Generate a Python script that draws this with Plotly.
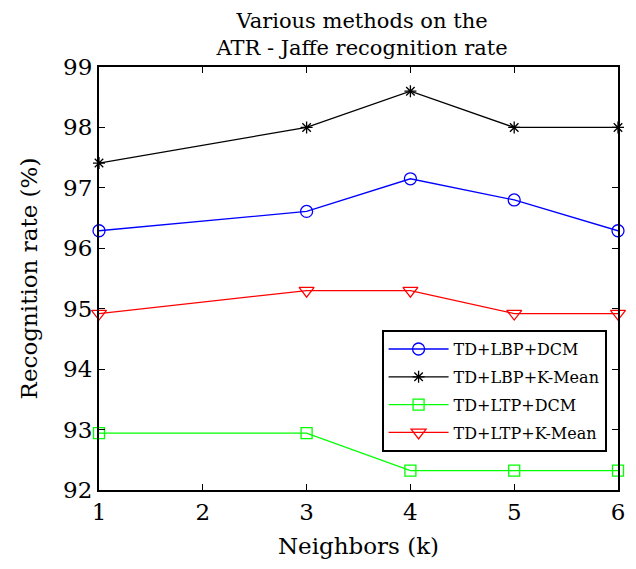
import plotly.graph_objects as go

neighbors = [1, 3, 4, 5, 6]
td_lbp_dcm = [96.29, 96.61, 97.15, 96.80, 96.29]
td_lbp_kmean = [97.41, 98.0, 98.6, 98.0, 98.0]
td_ltp_dcm = [92.94, 92.94, 92.32, 92.32, 92.32]
td_ltp_kmean = [94.92, 95.30, 95.30, 94.92, 94.92]

series = [
    ("TD+LBP+DCM", td_lbp_dcm, "#0000ff", "circle-open", 12),
    ("TD+LBP+K-Mean", td_lbp_kmean, "#000000", "asterisk-open", 10),
    ("TD+LTP+DCM", td_ltp_dcm, "#00ff00", "square-open", 11),
    ("TD+LTP+K-Mean", td_ltp_kmean, "#ff0000", "triangle-down-open", 13),
]

FONT = "DejaVu Serif"

# page body has an 8px default margin; compensate so the plot lands where the reference has it
OFF = 8
W, H = 636 - OFF, 569 - OFF
L, T, R, B = 99 - OFF, 67 - OFF, 11, 79

fig = go.Figure()
for name, vals, color, sym, size in series:
    fig.add_trace(go.Scatter(
        x=neighbors, y=vals, name=name, mode="lines+markers",
        legendgroup=name,
        line=dict(color=color, width=1.3),
        marker=dict(symbol=sym, size=size, color=color, line=dict(color=color, width=1.3)),
        cliponaxis=False,
    ))

fig.update_layout(
    width=W, height=H,
    margin=dict(l=L, r=R, t=T, b=B),
    paper_bgcolor="white", plot_bgcolor="white",
    font=dict(family=FONT, size=23, color="black"),
    title=dict(
        text="Various methods on the<br>ATR - Jaffe recognition rate",
        x=(362 - OFF) / W, xanchor="center",
        y=1 - 20 / H, yanchor="middle",
        font=dict(family=FONT, size=21, color="black"),
    ),
    xaxis=dict(
        range=[1, 6], tickvals=[1, 2, 3, 4, 5, 6],
        ticks="inside", ticklen=6, tickwidth=1, tickcolor="black",
        showline=True, linecolor="black", linewidth=2, mirror="ticks",
        showgrid=False, zeroline=False,
        title=dict(text="Neighbors (k)", font=dict(family=FONT, size=23), standoff=14),
        tickfont=dict(family=FONT, size=23),
    ),
    yaxis=dict(
        range=[92, 99], tickvals=[92, 93, 94, 95, 96, 97, 98, 99],
        ticks="inside", ticklen=6, tickwidth=1, tickcolor="black",
        showline=True, linecolor="black", linewidth=2, mirror="ticks",
        showgrid=False, zeroline=False,
        title=dict(text="Recognition rate (%)", font=dict(family=FONT, size=23), standoff=19),
        tickfont=dict(family=FONT, size=23),
    ),
    legend=dict(
        x=0.978, xanchor="right", y=0.378, yanchor="top",
        bgcolor="white", bordercolor="black", borderwidth=2,
        font=dict(family=FONT, size=16, color="black"),
        tracegroupgap=4, itemwidth=60,
    ),
    showlegend=True,
)

fig.write_html("out.html")
